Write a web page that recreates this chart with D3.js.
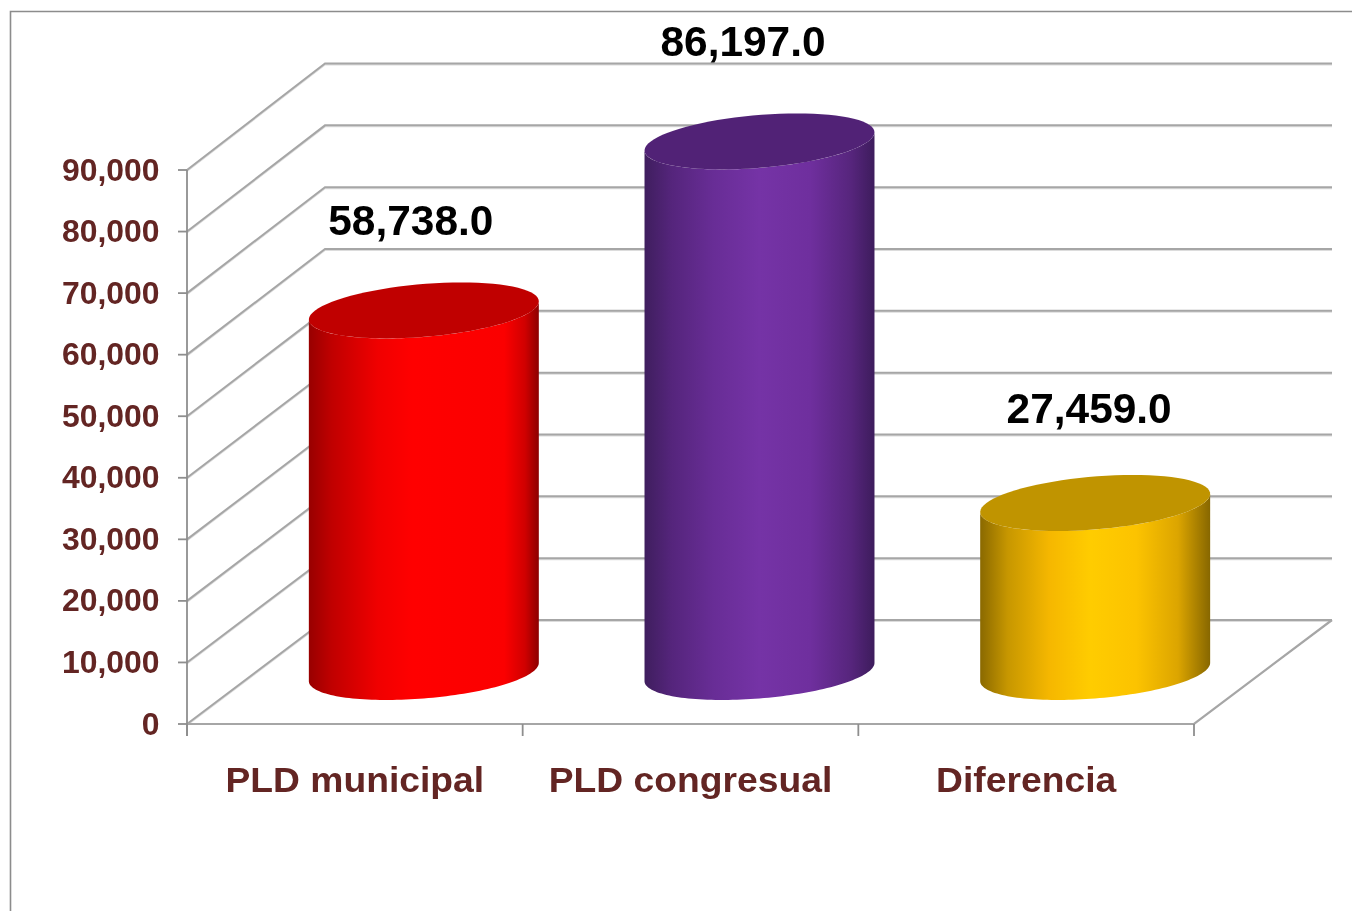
<!DOCTYPE html>
<html><head><meta charset="utf-8">
<script src="https://cdn.jsdelivr.net/npm/d3@7"></script>
<style>html,body{margin:0;padding:0;background:#fff;overflow:hidden}svg{display:block;filter:blur(0.45px)}text{font-family:"Liberation Sans",Arial,sans-serif;font-weight:bold}</style>
</head><body><svg id="c" width="1352" height="911"></svg>
<script>
const categories = ["PLD municipal", "PLD congresual", "Diferencia"];
const values = [58738, 86197, 27459];
const valueLabels = ["58,738.0", "86,197.0", "27,459.0"];
const yTicks = [0,10000,20000,30000,40000,50000,60000,70000,80000,90000];
const sideColors = [
  [[0,"#980000"],[.1,"#c00000"],[.3,"#f00000"],[.45,"#ff0000"],[.85,"#fb0000"],[.94,"#d00000"],[1,"#8c0000"]],
  [[0,"#3f1e5e"],[.12,"#55257c"],[.3,"#682d96"],[.5,"#7533a6"],[.72,"#6f2f9e"],[.9,"#56257c"],[1,"#3d1c5c"]],
  [[0,"#8a6900"],[.12,"#c79700"],[.3,"#f5b700"],[.48,"#ffcc00"],[.68,"#fcc300"],[.86,"#dca500"],[1,"#876700"]]
];
const topColors = ["#c00000","#512276","#c09400"];

const depthX = 138;
const ink = "#632523", gridC = "#a6a6a6";
const svg = d3.select("#c");
const x = d3.scaleBand().domain(categories).range([187,1194]).padding(0);
const y = d3.scaleLinear().domain([0,90000]).range([724,170]);
const yBack = d3.scaleLinear().domain([0,90000]).range([620,63.5]);

// frame
svg.append("path").attr("d","M10.5,911V11.5H1352").attr("fill","none").attr("stroke","#8c8c8c").attr("stroke-width",1.6);

// grid: side wall and back wall
const gridPath = v => `M187,${y(v)}L${187+depthX},${yBack(v)}L${1194+depthX},${yBack(v)}`;
const grid = svg.append("g").attr("fill","none");
grid.selectAll("path.s").data(yTicks).join("path").attr("class","s").attr("d",gridPath)
  .attr("stroke","#dcdcdc").attr("stroke-width",2).attr("transform","translate(0,1)");
grid.selectAll("path.m").data(yTicks).join("path").attr("class","m").attr("d",gridPath)
  .attr("stroke",gridC).attr("stroke-width",2);
// floor
svg.append("path").attr("d",`M187,${y(0)}H1194L${1194+depthX},${yBack(0)}`).attr("fill","none").attr("stroke",gridC).attr("stroke-width",2.2);
// axes
const axis = svg.append("g").attr("stroke","#8e8e8e").attr("stroke-width",1.8);
axis.append("line").attr("x1",187).attr("x2",187).attr("y1",y(90000)).attr("y2",y(0)+12);
axis.selectAll("line.t").data(yTicks).join("line").attr("class","t")
  .attr("x1",178).attr("x2",187).attr("y1",d=>y(d)).attr("y2",d=>y(d));
const xEdges = categories.map(c=>x(c)+x.bandwidth()).concat([187]);
axis.selectAll("line.x").data(xEdges).join("line").attr("class","x")
  .attr("x1",d=>d).attr("x2",d=>d).attr("y1",y(0)).attr("y2",y(0)+12);

// cylinders
const defs = svg.append("defs");
sideColors.forEach((st,i)=>{
  const g = defs.append("linearGradient").attr("id","g"+i);
  st.forEach(s=>g.append("stop").attr("offset",s[0]).attr("stop-color",s[1]));
});
const R = {w:108.7, dx:37.5, dy:28};
const t0 = Math.atan2(R.dx,R.w);
const pt = (cx,cy,t)=>[cx+R.w*Math.cos(t)+R.dx*Math.sin(t), cy-R.dy*Math.sin(t)];
const line = d3.line();
const arc = (cx,cy,a,b)=>d3.range(0,81).map(k=>pt(cx,cy,a+(b-a)*k/80));
const bars = svg.append("g");
categories.forEach((c,i)=>{
  const cx = x(c)+x.bandwidth()/2+depthX/2;
  const bY = y(0)-52, tY = y(values[i])-52;
  const body = arc(cx,bY,t0+Math.PI,t0+2*Math.PI).concat(arc(cx,tY,t0+2*Math.PI,t0+Math.PI));
  bars.append("path").attr("d",line(body)+"Z").attr("fill",`url(#g${i})`);
  bars.append("path").attr("d",line(arc(cx,tY,0,2*Math.PI))+"Z").attr("fill",topColors[i]);
});

// text, stretched horizontally like the reference
function txt(s,xp,yp,size,fill,anchor,stretch){
  svg.append("text").attr("transform",`translate(${xp},${yp}) scale(${stretch},1)`)
    .attr("text-anchor",anchor).attr("font-size",size).attr("fill",fill).text(s);
}
const fmt = d3.format(",");
yTicks.forEach(v=>txt(fmt(v),159.5,y(v)+10.5,31,ink,"end",1.03));
categories.forEach(c=>txt(c,x(c)+x.bandwidth()/2,792,36,ink,"middle",1.035));
const labelShift = [[-13,-127.3],[-16.5,-137.3],[-6,-132.3]];
categories.forEach((c,i)=>{
  const cx = x(c)+x.bandwidth()/2+depthX/2;
  txt(valueLabels[i],cx+labelShift[i][0],y(values[i])+labelShift[i][1],42,"#000","middle",1.01);
});
</script></body></html>
